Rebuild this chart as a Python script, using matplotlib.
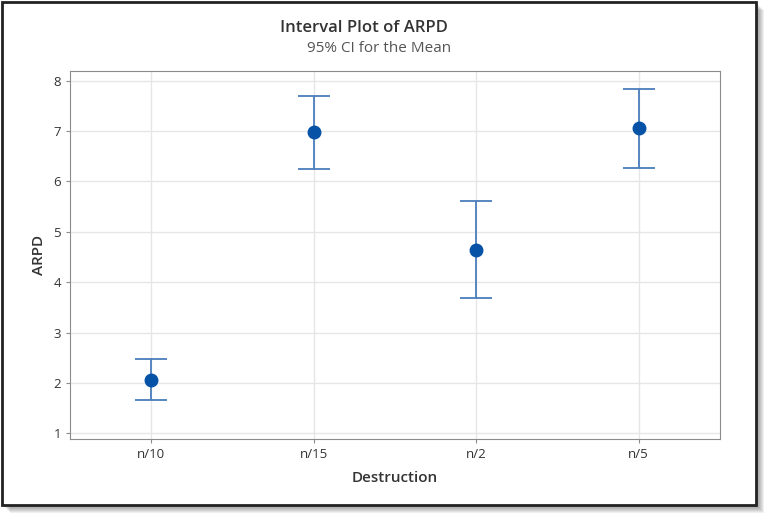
import numpy as np
import matplotlib.pyplot as plt
from matplotlib.patches import Rectangle

# datos
grupos = ['n/10', 'n/15', 'n/2', 'n/5']
medias = [2.06, 6.97, 4.64, 7.05]
ic_inf = [1.66, 6.24, 3.68, 6.26]
ic_sup = [2.48, 7.70, 5.62, 7.84]
yticks = [1, 2, 3, 4, 5, 6, 7, 8]

plt.rcParams['font.family'] = ['Open Sans', 'DejaVu Sans']

W, H = 767, 517
fig = plt.figure(figsize=(W / 100, H / 100), dpi=100)
fig.patch.set_facecolor('white')

# sombra y marco
for k in range(8, 0, -1):
    fig.patches.append(Rectangle(((2 + k) / W, 1 - (505 + k) / H), 754 / W, 503 / H,
                                 transform=fig.transFigure, facecolor='black',
                                 alpha=0.06, edgecolor='none', zorder=0))
fig.patches.append(Rectangle((2 / W, 1 - 505 / H), 754 / W, 503 / H,
                             transform=fig.transFigure, facecolor='white',
                             edgecolor='#222222', linewidth=2, zorder=1))

ax = fig.add_axes([70 / W, 1 - 439 / H, 650 / W, 368 / H])
ax.set_zorder(2)

x = np.arange(len(grupos))
med = np.array(medias)
err = [med - np.array(ic_inf), np.array(ic_sup) - med]
ax.errorbar(x, med, yerr=err, fmt='none', ecolor='#4a7dbb', elinewidth=1.3,
            capsize=11.5, capthick=1.3, zorder=3)
ax.plot(x, med, 'o', color='#0552a6', markersize=9, zorder=4)

ax.set_xlim(-0.5, 3.5)
ax.set_ylim(0.887, 8.19)
ax.set_xticks(x)
ax.set_xticklabels(grupos)
ax.set_yticks(yticks)
ax.grid(True, color='#e6e6e6', linewidth=1)
ax.set_axisbelow(True)
for s in ax.spines.values():
    s.set_color('#8c8c8c')
ax.tick_params(colors='#333333', labelsize=9.5, length=3, color='#8c8c8c')

ax.set_xlabel('Destruction', fontsize=11, fontweight='semibold', color='#333333', labelpad=7)
ax.set_ylabel('ARPD', fontsize=11, fontweight='semibold', color='#333333', labelpad=5)

fig.text(364 / W, 1 - 28 / H, 'Interval Plot of ARPD', ha='center', va='center',
         fontsize=12, fontweight='semibold', color='#333333')
fig.text(379 / W, 1 - 49 / H, '95% CI for the Mean', ha='center', va='center',
         fontsize=11, color='#555555')

plt.savefig('out.png', dpi=100)
